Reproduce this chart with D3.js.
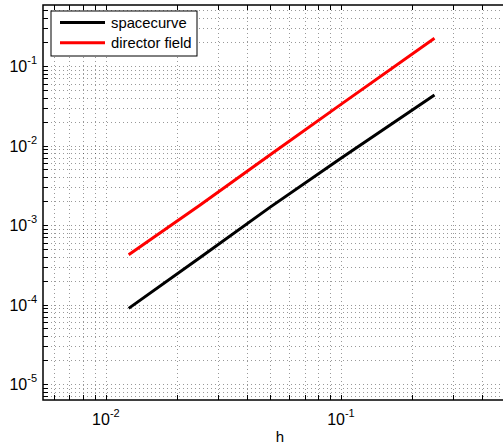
<!DOCTYPE html>
<html>
<head>
<meta charset="utf-8">
<script src="https://cdn.jsdelivr.net/npm/d3@7"></script>
<style>
  body { margin: 0; background: #fff; }
  svg { display: block; font-family: "Liberation Sans", Arial, Helvetica, sans-serif; }
</style>
</head>
<body>
<svg id="chart" width="503" height="447"></svg>
<script>
// Step sizes h and the error of each discretisation
const h = [0.0125, 0.025, 0.05, 0.1, 0.25];
const spacecurve = [8.95e-5, 3.85e-4, 1.68e-3, 6.9e-3, 4.32e-2];
const directorField = [4.23e-4, 1.76e-3, 7.66e-3, 3.29e-2, 0.223];

const seriesNames = ["spacecurve", "director field"];
const seriesColors = ["#000000", "#ff0000"];

const xTickExps = [-2, -1];
const yTickExps = [-5, -4, -3, -2, -1];
const xLabel = "h";

const xDomain = [0.0054, 0.561];
const yDomain = [6.3e-6, 0.585];

const plot = { left: 43, right: 517, top: 5, bottom: 400 };

const svg = d3.select("#chart");

const x = d3.scaleLog().domain(xDomain).range([plot.left, plot.right]);
const y = d3.scaleLog().domain(yDomain).range([plot.bottom, plot.top]);

// all decade sub-ticks (1..9 x 10^k) that fall inside a domain
function logTicks(dom) {
  const out = [];
  const k0 = Math.floor(Math.log10(dom[0])), k1 = Math.ceil(Math.log10(dom[1]));
  for (let k = k0; k <= k1; k++) {
    for (let m = 1; m <= 9; m++) {
      const v = m * Math.pow(10, k);
      if (v >= dom[0] && v <= dom[1]) out.push(v);
    }
  }
  return out;
}
const xt = logTicks(xDomain), yt = logTicks(yDomain);

// dotted grid
const grid = svg.append("g").attr("stroke", "#000").attr("stroke-opacity", 0.4)
  .attr("stroke-width", 1).attr("stroke-dasharray", "1,3").attr("shape-rendering", "crispEdges");
grid.selectAll("line.gx").data(xt).join("line")
  .attr("x1", d => Math.round(x(d)) + 0.5).attr("x2", d => Math.round(x(d)) + 0.5)
  .attr("y1", plot.top).attr("y2", plot.bottom);
grid.selectAll("line.gy").data(yt).join("line")
  .attr("y1", d => Math.round(y(d)) + 0.5).attr("y2", d => Math.round(y(d)) + 0.5)
  .attr("x1", plot.left).attr("x2", plot.right);

// inward tick marks on all visible sides
const tl = 5;
const ticks = svg.append("g").attr("stroke", "#000").attr("stroke-width", 1).attr("shape-rendering", "crispEdges");
ticks.selectAll("line.bx").data(xt).join("line")
  .attr("x1", d => Math.round(x(d)) + 0.5).attr("x2", d => Math.round(x(d)) + 0.5)
  .attr("y1", plot.bottom).attr("y2", plot.bottom - tl);
ticks.selectAll("line.tx").data(xt).join("line")
  .attr("x1", d => Math.round(x(d)) + 0.5).attr("x2", d => Math.round(x(d)) + 0.5)
  .attr("y1", plot.top).attr("y2", plot.top + tl);
ticks.selectAll("line.ly").data(yt).join("line")
  .attr("y1", d => Math.round(y(d)) + 0.5).attr("y2", d => Math.round(y(d)) + 0.5)
  .attr("x1", plot.left).attr("x2", plot.left + tl);

// frame
svg.append("rect")
  .attr("x", plot.left).attr("y", plot.top)
  .attr("width", plot.right - plot.left).attr("height", plot.bottom - plot.top)
  .attr("fill", "none").attr("stroke", "#000").attr("stroke-width", 1.5);

// data lines
const line = d3.line().x(d => x(d[0])).y(d => y(d[1]));
const seriesData = [spacecurve, directorField];
seriesData.forEach((vals, i) => {
  svg.append("path")
    .datum(h.map((hv, j) => [hv, vals[j]]))
    .attr("d", line)
    .attr("fill", "none")
    .attr("stroke", seriesColors[i])
    .attr("stroke-width", 3);
});

// tick labels: 10 with superscript exponent
const fs = 16, fe = 11;
yTickExps.forEach(e => {
  const t = svg.append("text")
    .attr("x", plot.left - 6)
    .attr("y", y(Math.pow(10, e)) + 6)
    .attr("text-anchor", "end")
    .attr("font-size", fs);
  t.append("tspan").text("10");
  t.append("tspan").attr("font-size", fe).attr("dy", -8).text("-" + Math.abs(e));
});
xTickExps.forEach(e => {
  const t = svg.append("text")
    .attr("x", x(Math.pow(10, e)))
    .attr("y", 424.5)
    .attr("text-anchor", "middle")
    .attr("font-size", fs);
  t.append("tspan").text("10");
  t.append("tspan").attr("font-size", fe).attr("dy", -8).text("-" + Math.abs(e));
});

// axis title
svg.append("text")
  .attr("x", (plot.left + plot.right) / 2)
  .attr("y", 442)
  .attr("text-anchor", "middle")
  .attr("font-size", 15)
  .text(xLabel);

// legend
const lg = svg.append("g");
lg.append("rect")
  .attr("x", 51).attr("y", 11).attr("width", 146).attr("height", 45)
  .attr("fill", "#fff").attr("stroke", "#000").attr("stroke-width", 1);
seriesNames.forEach((name, i) => {
  const ly = 22.5 + i * 20.3;
  lg.append("line")
    .attr("x1", 60).attr("x2", 105).attr("y1", ly).attr("y2", ly)
    .attr("stroke", seriesColors[i]).attr("stroke-width", 3);
  lg.append("text")
    .attr("x", 111).attr("y", ly + 5)
    .attr("font-size", 14.8)
    .text(name);
});
</script>
</body>
</html>
